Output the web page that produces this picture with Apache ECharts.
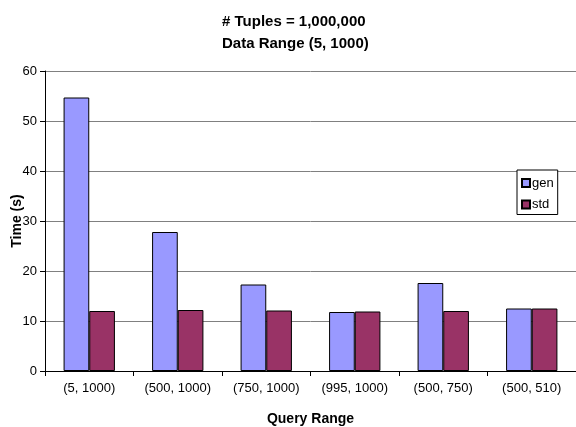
<!DOCTYPE html>
<html>
<head>
<meta charset="utf-8">
<script src="https://cdn.jsdelivr.net/npm/echarts@6/dist/echarts.min.js"></script>
<style>
  html, body { margin: 0; padding: 0; background: #ffffff; }
  #chart { width: 576px; height: 427px; }
</style>
</head>
<body>
<div id="chart"></div>
<script>
// Query ranges on the x axis
const queryRanges = ['(5, 1000)', '(500, 1000)', '(750, 1000)', '(995, 1000)', '(500, 750)', '(500, 510)'];
// Execution time in seconds for each method
const genTimes = [54.7, 27.8, 17.3, 11.8, 17.6, 12.5];
const stdTimes = [12.0, 12.2, 12.1, 11.9, 12.0, 12.5];
// Y axis ticks
const timeTicks = [0, 10, 20, 30, 40, 50, 60];

const FONT = '"Liberation Sans", Arial, sans-serif';

const chart = echarts.init(document.getElementById('chart'), null, { renderer: 'canvas' });

chart.setOption({
  animation: false,
  backgroundColor: '#ffffff',
  title: {
    text: '# Tuples = 1,000,000\nData Range (5, 1000)',
    left: 222,
    top: 11,
    padding: 0,
    textStyle: {
      fontFamily: FONT,
      fontSize: 15,
      fontWeight: 'bold',
      color: '#000000',
      lineHeight: 22,
      align: 'center',
      width: 148
    }
  },
  legend: {
    orient: 'vertical',
    left: 517,
    top: 170,
    padding: [6, 4, 3, 4],
    itemGap: 7.5,
    itemWidth: 8,
    itemHeight: 8,
    icon: 'rect',
    borderColor: '#000000',
    borderWidth: 1,
    backgroundColor: '#ffffff',
    textStyle: {
      fontFamily: FONT,
      fontSize: 13,
      color: '#000000',
      lineHeight: 14,
      padding: [0, 0, 0, -3]
    },
    data: ['gen', 'std']
  },
  grid: {
    left: 45,
    right: 0,
    top: 71,
    bottom: 56,
    containLabel: false,
    outerBoundsMode: 'none'
  },
  xAxis: {
    type: 'category',
    data: queryRanges,
    name: 'Query Range',
    nameLocation: 'middle',
    nameGap: 41,
    nameMoveOverlap: false,
    nameTextStyle: {
      fontFamily: FONT,
      fontSize: 14,
      fontWeight: 'bold',
      color: '#000000'
    },
    axisLine: { show: true, lineStyle: { color: '#000000', width: 1 } },
    axisTick: { show: true, inside: false, length: 5, interval: 0, lineStyle: { color: '#000000' } },
    axisLabel: {
      interval: 0,
      margin: 11,
      fontFamily: FONT,
      fontSize: 13,
      color: '#000000'
    },
    splitLine: { show: false }
  },
  yAxis: {
    type: 'value',
    min: timeTicks[0],
    max: timeTicks[timeTicks.length - 1],
    interval: timeTicks[1] - timeTicks[0],
    name: 'Time (s)',
    nameLocation: 'middle',
    nameGap: 21,
    nameRotate: 90,
    nameMoveOverlap: false,
    nameTextStyle: {
      fontFamily: FONT,
      fontSize: 14,
      fontWeight: 'bold',
      color: '#000000'
    },
    axisLine: { show: true, lineStyle: { color: '#000000', width: 1 } },
    axisTick: { show: true, inside: false, length: 5, lineStyle: { color: '#000000' } },
    axisLabel: {
      margin: 8,
      fontFamily: FONT,
      fontSize: 13,
      color: '#000000'
    },
    splitLine: { show: true, lineStyle: { color: '#808080', width: 1 } }
  },
  series: [
    {
      name: 'gen',
      type: 'bar',
      data: genTimes,
      barGap: '0%',
      barCategoryGap: '42%',
      itemStyle: { color: '#9999FF', borderColor: '#000000', borderWidth: 1 }
    },
    {
      name: 'std',
      type: 'bar',
      data: stdTimes,
      barGap: '0%',
      barCategoryGap: '42%',
      itemStyle: { color: '#993366', borderColor: '#000000', borderWidth: 1 }
    }
  ]
});
</script>
</body>
</html>
